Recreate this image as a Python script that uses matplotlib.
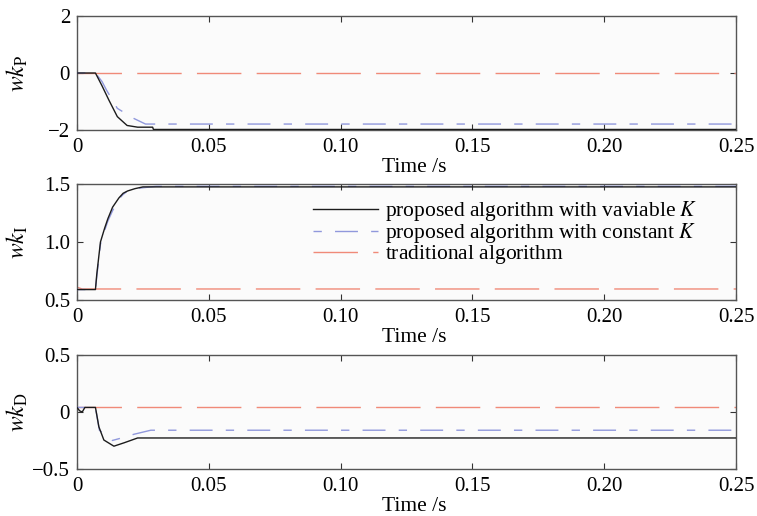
import matplotlib
matplotlib.use("Agg")
import matplotlib.pyplot as plt

plt.rcParams['font.family'] = ['Liberation Serif', 'DejaVu Serif']
plt.rcParams['mathtext.fontset'] = 'stix'
plt.rcParams['font.size'] = 15

# panel 1 : wk_P
t_p_var = [0, 0.007, 0.0095, 0.0121, 0.0153, 0.019, 0.023, 0.0287, 0.029, 0.25]
p_var = [0, 0, -0.45, -0.95, -1.53, -1.84, -1.9, -1.9, -1.98, -1.98]
t_p_const = [0, 0.007, 0.0095, 0.0112, 0.0153, 0.0217, 0.026, 0.25]
p_const = [0, 0, -0.3, -0.6, -1.24, -1.6, -1.79, -1.79]
t_p_trad = [0, 0.25]
p_trad = [0, 0]

# panel 2 : wk_I
t_i_var = [0, 0.002, 0.007, 0.0075, 0.0089, 0.0105, 0.0117, 0.0135, 0.0159, 0.0175, 0.0192, 0.022, 0.025, 0.25]
i_var = [0.59, 0.59, 0.59, 0.72, 1.0, 1.12, 1.2, 1.3, 1.38, 1.42, 1.44, 1.46, 1.475, 1.475]
t_i_const = [0, 0.002, 0.007, 0.0075, 0.0089, 0.0105, 0.0117, 0.0135, 0.0159, 0.0175, 0.0192, 0.022, 0.03, 0.25]
i_const = [0.59, 0.59, 0.59, 0.7, 0.98, 1.1, 1.18, 1.27, 1.37, 1.41, 1.44, 1.46, 1.48, 1.48]
t_i_trad = [0, 0.002, 0.25]
i_trad = [0.61, 0.595, 0.595]

# panel 3 : wk_D
t_d_var = [0, 0.001, 0.002, 0.003, 0.007, 0.0083, 0.0102, 0.014, 0.0179, 0.023, 0.25]
d_var = [0.04, 0.01, 0.0, 0.04, 0.04, -0.13, -0.246, -0.30, -0.27, -0.228, -0.228]
t_d_const = [0, 0.007, 0.0085, 0.0134, 0.0166, 0.0217, 0.028, 0.25]
d_const = [0.04, 0.04, -0.16, -0.25, -0.23, -0.195, -0.16, -0.16]
t_d_trad = [0, 0.25]
d_trad = [0.045, 0.045]

xticks = [0, 0.05, 0.10, 0.15, 0.20, 0.25]
xticklabels = ["0", "0.05", "0.10", "0.15", "0.20", "0.25"]
ylabels = [r"$wk_{\mathrm{P}}$", r"$wk_{\mathrm{I}}$", r"$wk_{\mathrm{D}}$"]
yticks = [[-2, 0, 2], [0.5, 1.0, 1.5], [-0.5, 0, 0.5]]
yticklabels = [["\u22122", "0", "2"], ["0.5", "1.0", "1.5"], ["\u22120.5", "0", "0.5"]]
legend_labels = [r"proposed algorithm with vaviable $K$",
                 r"proposed algorithm with constant $K$",
                 r"traditional algorithm$\,$"]

c_var = "#1c1c1c"
c_const = "#9098dc"
c_trad = "#f08a78"
ls_const = (0, (6, 9.5, 16.5, 9.5))
ls_trad = (0, (32, 11))

fig = plt.figure(figsize=(7.57, 5.16), dpi=100)
positions = [[0.1017, 0.748, 0.8706, 0.221],
             [0.1017, 0.4186, 0.8706, 0.2248],
             [0.1017, 0.0911, 0.8706, 0.221]]

series = [
    (t_p_var, p_var, t_p_const, p_const, t_p_trad, p_trad),
    (t_i_var, i_var, t_i_const, i_const, t_i_trad, i_trad),
    (t_d_var, d_var, t_d_const, d_const, t_d_trad, d_trad),
]

axes = []
for k, pos in enumerate(positions):
    ax = fig.add_axes(pos)
    ax.set_facecolor("#fbfbfb")
    tv, yv, tc, yc, tt, yt = series[k]
    ax.plot(tt, yt, color=c_trad, lw=1.0, linestyle=ls_trad, zorder=2)
    ax.plot(tc, yc, color=c_const, lw=1.0, linestyle=ls_const, zorder=3)
    ax.plot(tv, yv, color=c_var, lw=1.0, zorder=4)
    ax.set_xlim(0, 0.25)
    ax.set_ylim(yticks[k][0], yticks[k][-1])
    ax.set_xticks(xticks)
    ax.set_xticklabels(xticklabels)
    ax.set_yticks(yticks[k])
    ax.set_yticklabels(yticklabels[k])
    ax.tick_params(direction="in", top=True, right=True, length=4, width=0.8,
                   color="#333333", labelsize=15)
    ax.tick_params(axis="x", pad=6)
    ax.tick_params(axis="y", pad=5)
    for s in ax.spines.values():
        s.set_color("#555555")
        s.set_linewidth(1.0)
    ax.set_xlabel("Time /s", fontsize=15.5)
    ax.xaxis.set_label_coords(0.511, -0.245)
    ax.set_ylabel(ylabels[k], fontsize=17)
    ax.yaxis.set_label_coords(-0.072, 0.5)
    axes.append(ax)

handles = axes[1].get_lines()
leg = axes[1].legend([handles[2], handles[1], handles[0]], legend_labels,
                     loc="upper left", bbox_to_anchor=(0.342, 0.96),
                     frameon=False, fontsize=15.5, handlelength=3.0,
                     handletextpad=0.35, labelspacing=-0.1, borderpad=0)

fig.savefig("out.png", dpi=100, facecolor="white")
